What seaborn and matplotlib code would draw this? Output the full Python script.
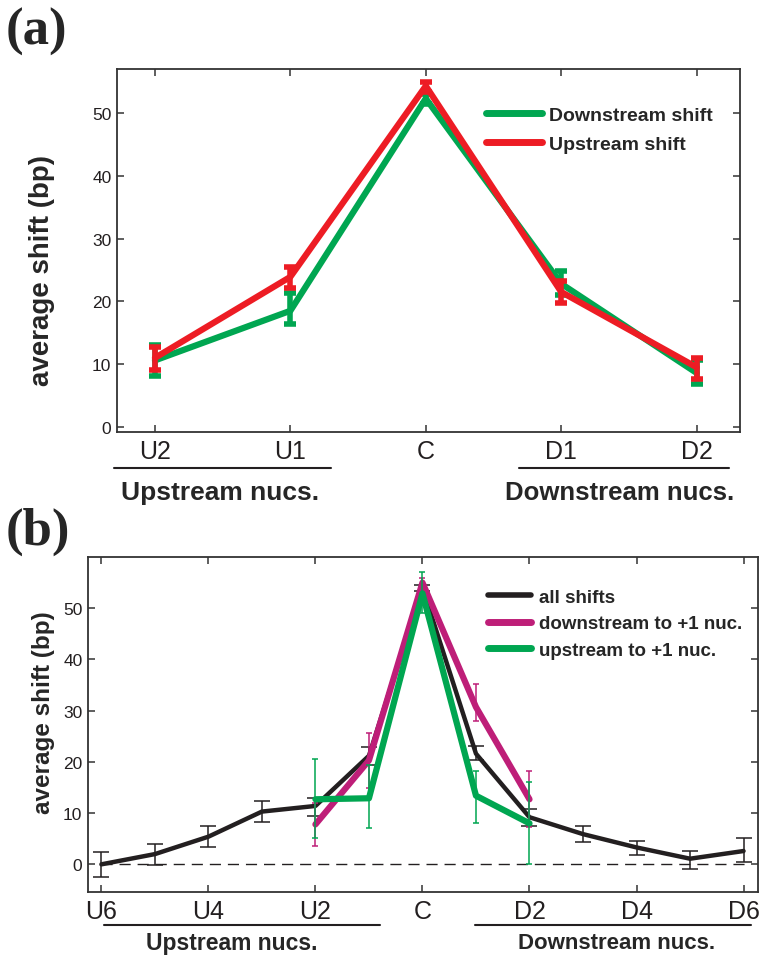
import matplotlib
matplotlib.use("Agg")
import matplotlib.pyplot as plt
import seaborn as sns
import pandas as pd
import numpy as np
from matplotlib.lines import Line2D

# ---------------- data: panel (a) ----------------
pos_a = ["U2", "U1", "C", "D1", "D2"]
down_mean = [10.6, 18.5, 52.3, 22.8, 8.6]
down_lo = [8.1, 16.4, 51.5, 21.0, 6.8]
down_hi = [13.1, 21.3, 53.0, 24.8, 10.6]
up_mean = [11.0, 23.9, 54.3, 21.5, 9.5]
up_lo = [9.1, 22.2, 53.4, 19.8, 7.6]
up_hi = [12.8, 25.4, 54.9, 23.2, 11.0]

# ---------------- data: panel (b) ----------------
pos_b = ["U6", "U5", "U4", "U3", "U2", "U1", "C", "D1", "D2", "D3", "D4", "D5", "D6"]
tick_b = ["U6", "U4", "U2", "C", "D2", "D4", "D6"]
all_mean = [0.0, 2.0, 5.4, 10.3, 11.4, 21.2, 54.0, 21.6, 9.2, 5.9, 3.3, 1.1, 2.6]
all_lo = [-2.5, -0.2, 3.3, 8.2, 9.5, 19.4, 53.4, 20.3, 7.4, 4.4, 1.9, -0.9, 0.5]
all_hi = [2.4, 4.0, 7.4, 12.4, 12.9, 23.0, 54.6, 23.2, 10.8, 7.4, 4.6, 2.6, 5.1]
dn1_pos = ["U2", "U1", "C", "D1", "D2"]
dn1_mean = [7.8, 20.3, 55.0, 30.7, 12.7]
dn1_lo = [3.6, 15.0, 54.0, 28.0, 7.2]
dn1_hi = [12.0, 25.7, 55.9, 35.3, 18.3]
up1_pos = ["U2", "U1", "C", "D1", "D2"]
up1_mean = [12.7, 12.9, 52.9, 13.4, 8.0]
up1_lo = [5.2, 7.0, 49.0, 8.0, 0.0]
up1_hi = [20.6, 19.3, 57.0, 18.3, 16.0]

GREEN = "#00A651"
RED = "#ED1C24"
MAGENTA = "#BE1E78"
BLACK = "#231F20"

sns.set_style("ticks")
plt.rcParams["font.family"] = ["Liberation Sans", "DejaVu Sans"]
REG = ["Liberation Sans", "DejaVu Sans"]

fig = plt.figure(figsize=(7.61, 9.62), dpi=100)
W, H = 761.0, 962.0


def rect(l, t, r, b):
    return [l / W, 1 - b / H, (r - l) / W, (b - t) / H]


def style_axes(ax):
    for s in ax.spines.values():
        s.set_linewidth(1.3)
        s.set_color("#333333")
    ax.tick_params(direction="in", top=True, right=True, length=5, width=1.1,
                   color="#333333")
    ax.tick_params(axis="y", labelsize=12.5, pad=4)
    ax.tick_params(axis="x", labelsize=18, pad=5)
    for lab in ax.get_yticklabels() + ax.get_xticklabels():
        lab.set_family(REG)
        lab.set_color("#231F20")


# ================= panel (a) =================
axa = fig.add_axes(rect(117, 70, 740, 433))
xa = np.arange(len(pos_a))
dfa = pd.DataFrame({
    "x": np.concatenate([xa, xa]),
    "y": down_mean + up_mean,
    "series": ["Downstream shift"] * len(xa) + ["Upstream shift"] * len(xa),
})
sns.lineplot(data=dfa[dfa.series == "Downstream shift"], x="x", y="y",
             color=GREEN, linewidth=4.5, ax=axa, legend=False, zorder=2)
sns.lineplot(data=dfa[dfa.series == "Upstream shift"], x="x", y="y",
             color=RED, linewidth=4.5, ax=axa, legend=False, zorder=5)
for m, lo, hi, c, z in [(down_mean, down_lo, down_hi, GREEN, 3),
                        (up_mean, up_lo, up_hi, RED, 6)]:
    m = np.array(m)
    err = [m - np.array(lo), np.array(hi) - m]
    axa.errorbar(xa, m, yerr=err, fmt="none", ecolor=c, elinewidth=4,
                 capsize=4, capthick=4, zorder=z)

axa.set_xlim(-0.28, 4.32)
axa.set_ylim(-0.8, 57)
axa.set_xticks(xa)
axa.set_xticklabels(pos_a)
axa.set_yticks([0, 10, 20, 30, 40, 50])
axa.set_xlabel("")
axa.set_ylabel("average shift (bp)", fontsize=20, fontweight="bold", family=REG)
axa.yaxis.set_label_coords(-0.0995, 0.449)
style_axes(axa)

ha = [Line2D([], [], color=GREEN, lw=5), Line2D([], [], color=RED, lw=5)]
axa.legend(ha, ["Downstream shift", "Upstream shift"], loc="upper left",
           bbox_to_anchor=(0.592, 0.897), frameon=False, handlelength=2.9,
           handletextpad=0.35, labelspacing=0.6, borderpad=0, borderaxespad=0,
           prop={"family": REG, "weight": "bold", "size": 14})

tra = axa.get_xaxis_transform()
axa.plot([-0.3, 1.30], [-0.099, -0.099], color=BLACK, lw=1.5, transform=tra,
         clip_on=False)
axa.plot([2.69, 4.24], [-0.099, -0.099], color=BLACK, lw=1.5, transform=tra,
         clip_on=False)
axa.text(0.48, -0.165, "Upstream nucs.", transform=tra, ha="center",
         va="center", fontsize=19, fontweight="bold", family=REG)
axa.text(3.43, -0.165, "Downstream nucs.", transform=tra, ha="center",
         va="center", fontsize=18.5, fontweight="bold", family=REG)

# ================= panel (b) =================
axb = fig.add_axes(rect(88, 558, 758, 893))
idx = {p: i for i, p in enumerate(pos_b)}
xb_all = np.array([idx[p] for p in pos_b])
xb_dn = np.array([idx[p] for p in dn1_pos])
xb_up = np.array([idx[p] for p in up1_pos])

axb.axhline(0, xmin=0.02, xmax=0.98, color=BLACK, lw=1.0, ls=(0, (8, 5)),
            zorder=1)

dfb = pd.DataFrame({
    "x": np.concatenate([xb_all, xb_dn, xb_up]),
    "y": all_mean + dn1_mean + up1_mean,
    "series": (["all shifts"] * len(xb_all) + ["downstream to +1 nuc."] * len(xb_dn)
               + ["upstream to +1 nuc."] * len(xb_up)),
})
for name, c, lw, z in [("all shifts", BLACK, 3.2, 3),
                       ("downstream to +1 nuc.", MAGENTA, 4.5, 5),
                       ("upstream to +1 nuc.", GREEN, 4.5, 7)]:
    sns.lineplot(data=dfb[dfb.series == name], x="x", y="y", color=c,
                 linewidth=lw, ax=axb, legend=False, zorder=z)

for xx, m, lo, hi, c, z in [(xb_all, all_mean, all_lo, all_hi, BLACK, 4),
                            (xb_dn, dn1_mean, dn1_lo, dn1_hi, MAGENTA, 6),
                            (xb_up, up1_mean, up1_lo, up1_hi, GREEN, 8)]:
    m = np.array(m)
    err = [m - np.array(lo), np.array(hi) - m]
    cs = 6 if c == BLACK else 2
    axb.errorbar(xx, m, yerr=err, fmt="none", ecolor=c, elinewidth=1.1,
                 capsize=cs, capthick=1.1, zorder=z)

axb.set_xlim(-0.25, 12.27)
axb.set_ylim(-5.4, 60)
axb.set_xticks([idx[t] for t in tick_b])
axb.set_xticklabels(tick_b)
axb.set_yticks([0, 10, 20, 30, 40, 50])
axb.set_xlabel("")
axb.set_ylabel("average shift (bp)", fontsize=17.5, fontweight="bold", family=REG)
axb.yaxis.set_label_coords(-0.049, 0.537)
style_axes(axb)

hb = [Line2D([], [], color=BLACK, lw=4), Line2D([], [], color=MAGENTA, lw=5),
      Line2D([], [], color=GREEN, lw=5)]
axb.legend(hb, ["all shifts", "downstream to +1 nuc.", "upstream to +1 nuc."],
           loc="upper left", bbox_to_anchor=(0.597, 0.905), frameon=False,
           handlelength=2.3, handletextpad=0.4, labelspacing=0.5, borderpad=0,
           borderaxespad=0,
           prop={"family": REG, "weight": "bold", "size": 13.5})

trb = axb.get_xaxis_transform()
axb.plot([0.04, 5.2], [-0.099, -0.099], color=BLACK, lw=1.5, transform=trb,
         clip_on=False)
axb.plot([6.98, 12.13], [-0.099, -0.099], color=BLACK, lw=1.5, transform=trb,
         clip_on=False)
axb.text(2.44, -0.152, "Upstream nucs.", transform=trb, ha="center",
         va="center", fontsize=16.5, fontweight="bold", family=REG)
axb.text(9.62, -0.152, "Downstream nucs.", transform=trb, ha="center",
         va="center", fontsize=16, fontweight="bold", family=REG)

# panel labels
fig.text(6 / W, 1 - 32 / H, "(a)", fontsize=38, fontweight="bold",
         family=["Liberation Serif", "DejaVu Serif"], va="center", ha="left")
fig.text(6 / W, 1 - 532 / H, "(b)", fontsize=38, fontweight="bold",
         family=["Liberation Serif", "DejaVu Serif"], va="center", ha="left")

fig.savefig("out.png", dpi=100)
